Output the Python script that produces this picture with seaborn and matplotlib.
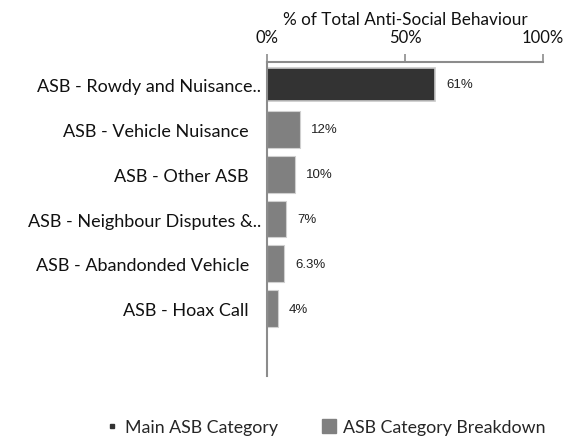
import matplotlib
matplotlib.use("Agg")
import matplotlib.pyplot as plt
import matplotlib.transforms as mtransforms
from matplotlib.lines import Line2D
import seaborn as sns
import pandas as pd

# Anti-social behaviour categories and their share of the total (%)
categories = [
    "ASB - Rowdy and Nuisance..",
    "ASB - Vehicle Nuisance",
    "ASB - Other ASB",
    "ASB - Neighbour Disputes &..",
    "ASB - Abandonded Vehicle",
    "ASB - Hoax Call",
]
shares = [61, 12, 10, 7, 6.3, 4]
value_labels = ["61%", "12%", "10%", "7%", "6.3%", "4%"]
groups = ["Main ASB Category"] + ["ASB Category Breakdown"] * 5
x_ticks = [0, 50, 100]
x_tick_labels = ["0%", "50%", "100%"]

df = pd.DataFrame({"category": categories, "share": shares, "group": groups})

sns.set_theme(style="white")
plt.rcParams["font.family"] = ["Lato", "DejaVu Sans"]

label_font = "Lato"
value_font = "Liberation Sans"
main_color = "#333333"
breakdown_color = "#808080"
axis_color = "#8c8c8c"

fig = plt.figure(figsize=(5.66, 4.39), dpi=100)
ax = fig.add_axes([267 / 566, 1 - 377 / 439, (543 - 267) / 566, (377 - 63) / 439])

main_df = df[df["group"] == "Main ASB Category"]
breakdown_df = df[df["group"] == "ASB Category Breakdown"]

sns.barplot(data=main_df, x="share", y="category", order=categories,
            orient="h", color=main_color, width=0.72, saturation=1,
            edgecolor="#c8c8c8", linewidth=1.2, ax=ax)
sns.barplot(data=breakdown_df, x="share", y="category", order=categories,
            orient="h", color=breakdown_color, width=0.82, saturation=1,
            edgecolor="#d0d0d0", linewidth=0.8, ax=ax)

# value labels to the right of each bar
for i, (v, lab) in enumerate(zip(shares, value_labels)):
    ax.annotate(lab, xy=(v, i), xytext=(8, 0), textcoords="offset points",
                ha="left", va="center", fontsize=9.5, family=value_font,
                color="#222222")

ax.set_xlim(0, 100)
ax.set_ylim(6.5, -0.5)
ax.set_xticks(x_ticks)
ax.set_xticklabels(x_tick_labels)
ax.xaxis.tick_top()
ax.xaxis.set_label_position("top")
ax.set_xlabel("% of Total Anti-Social Behaviour", fontsize=12.3,
              family=label_font, color="#111111", labelpad=4)
ax.set_ylabel("")

ax.tick_params(axis="x", which="both", top=True, bottom=False, direction="out",
               length=6, width=1.2, color=axis_color, pad=6,
               labelsize=12, labelcolor="#111111")
ax.tick_params(axis="y", which="both", left=False, length=0, pad=13,
               labelsize=13, labelcolor="#111111")
for t in ax.get_yticklabels():
    t.set_family(label_font)
    if t.get_text().endswith(".."):
        t.set_transform(t.get_transform() +
                        mtransforms.ScaledTranslation(12 / 100, 0, fig.dpi_scale_trans))
for t in ax.get_xticklabels():
    t.set_family(label_font)

for side in ["right", "bottom"]:
    ax.spines[side].set_visible(False)
for side in ["left", "top"]:
    ax.spines[side].set_visible(True)
    ax.spines[side].set_color(axis_color)
    ax.spines[side].set_linewidth(1.5)

handles = [
    Line2D([], [], ls="", marker="s", markersize=3.5, color=main_color,
           label="Main ASB Category"),
    Line2D([], [], ls="", marker="s", markersize=10, color=breakdown_color,
           label="ASB Category Breakdown"),
]
fig.legend(handles=handles, loc="center", bbox_to_anchor=(0.574, 1 - 428 / 439),
           ncol=2, frameon=False, prop={"family": label_font, "size": 12.8},
           handlelength=0.8, handletextpad=0.35, columnspacing=2.5)

fig.savefig("out.png", dpi=100)
